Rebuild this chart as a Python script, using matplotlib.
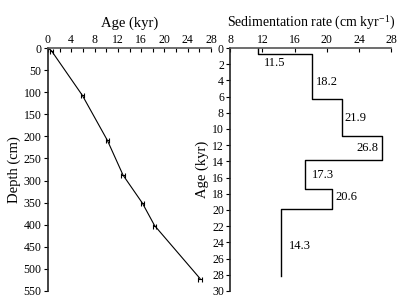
import matplotlib
matplotlib.use("Agg")
import matplotlib.pyplot as plt
from matplotlib.ticker import MultipleLocator
import numpy as np

plt.rcParams['font.family'] = ['Liberation Serif', 'DejaVu Serif']
plt.rcParams['mathtext.fontset'] = 'stix'

# Age-depth model
ages = [0.0, 0.6, 5.9, 10.2, 12.9, 16.2, 18.3, 26.1]
depths = [0, 6, 107, 209, 288, 351, 402, 522]
age_err = [0.0, 0.3, 0.3, 0.3, 0.3, 0.3, 0.3, 0.4]

# Sedimentation rate profile
boundaries = [0.0, 0.7, 6.3, 10.9, 13.8, 17.4, 19.9, 28.1]
rates = [11.5, 18.2, 21.9, 26.8, 17.3, 20.6, 14.3]
rate_labels = ["11.5", "18.2", "21.9", "26.8", "17.3", "20.6", "14.3"]
label_x = [12.2, 18.6, 22.2, 23.7, 18.1, 21.0, 15.3]
label_y = [1.9, 4.2, 8.7, 12.3, 15.7, 18.4, 24.5]

fig = plt.figure(figsize=(4.06, 3.04), dpi=100)
ax1 = fig.add_axes([0.118, 0.043, 0.402, 0.799])
ax2 = fig.add_axes([0.567, 0.043, 0.397, 0.799])

for ax in (ax1, ax2):
    ax.spines['right'].set_visible(False)
    ax.spines['bottom'].set_visible(False)
    ax.spines['top'].set_linewidth(1.2)
    ax.spines['left'].set_linewidth(1.2)
    ax.spines['top'].set_color('#555555')
    ax.spines['left'].set_color('#222222')
    ax.xaxis.tick_top()
    ax.xaxis.set_label_position('top')
    ax.tick_params(axis='x', direction='in', length=3, width=0.8, labelsize=8.5, pad=1.5)
    ax.tick_params(axis='x', which='minor', direction='in', length=3, width=0.8)
    ax.tick_params(axis='y', direction='out', length=3, width=0.8, labelsize=8.5, pad=1.5)

# Left panel
ax1.plot(ages, depths, color='black', lw=0.8)
ax1.errorbar(ages[1:], depths[1:], xerr=age_err[1:], fmt='none', ecolor='black',
             elinewidth=0.8, capsize=1.8, capthick=0.8)
ax1.set_xlim(0, 28)
ax1.set_ylim(550, 0)
ax1.xaxis.set_major_locator(MultipleLocator(4))
ax1.xaxis.set_minor_locator(MultipleLocator(2))
ax1.yaxis.set_major_locator(MultipleLocator(50))
ax1.set_xlabel("Age (kyr)", fontsize=10.5, labelpad=5)
ax1.set_ylabel("Depth (cm)", fontsize=10.5, labelpad=2)

# Right panel: step profile
xs = np.repeat(rates, 2)
ys = np.concatenate([[boundaries[0]], np.repeat(boundaries[1:-1], 2), [boundaries[-1]]])
ax2.plot(xs, ys, color='black', lw=1.0)
for tx, ty, t in zip(label_x, label_y, rate_labels):
    ax2.text(tx, ty, t, fontsize=9, ha='left', va='center')
ax2.set_xlim(8, 28)
ax2.set_ylim(30, 0)
ax2.xaxis.set_major_locator(MultipleLocator(4))
ax2.yaxis.set_major_locator(MultipleLocator(2))
ax2.set_xlabel("Sedimentation rate (cm kyr$^{\\mathdefault{-1}}$)", fontsize=10, labelpad=5)
ax2.set_ylabel("Age (kyr)", fontsize=10.5, labelpad=2)

fig.savefig("out.png", dpi=100)
